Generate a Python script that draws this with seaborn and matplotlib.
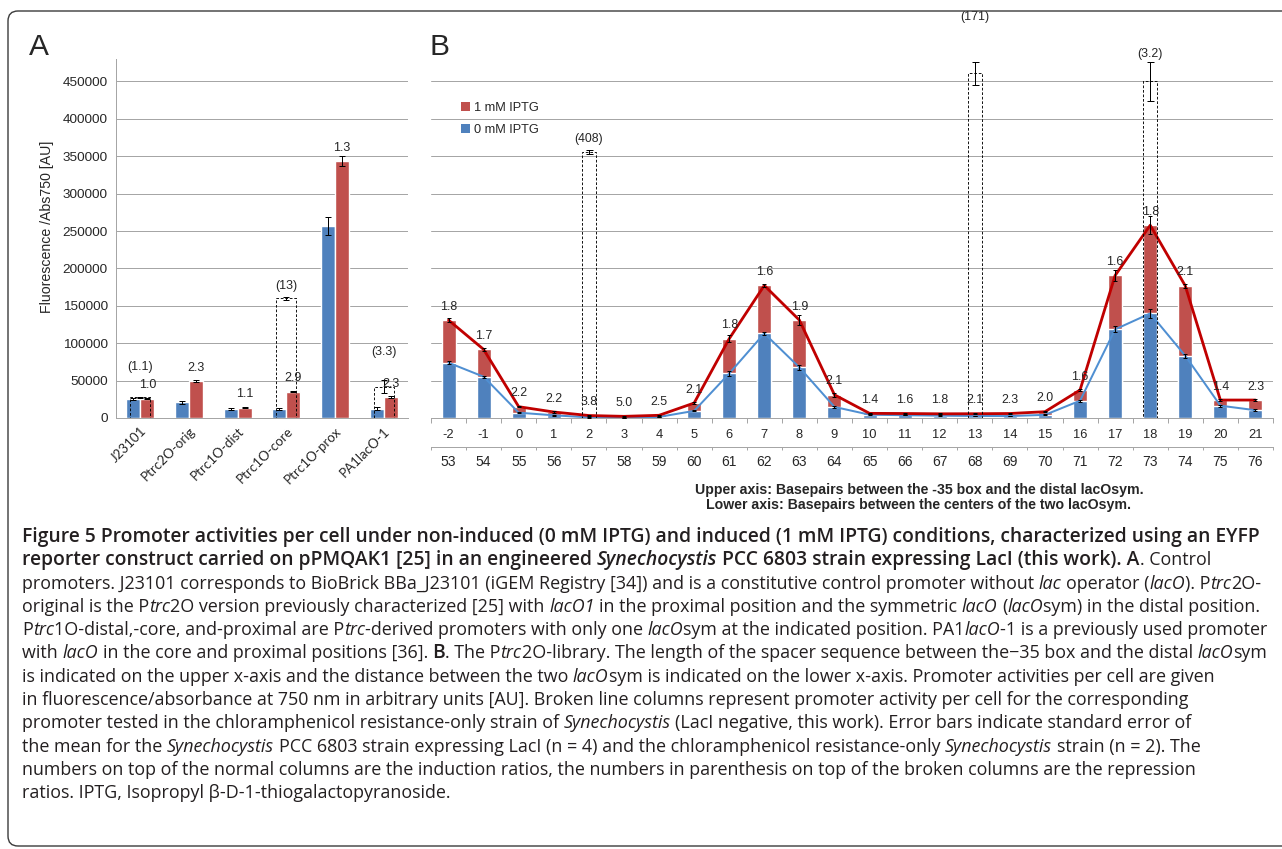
import numpy as np
import pandas as pd
import matplotlib
matplotlib.use("Agg")
import matplotlib.pyplot as plt
from matplotlib.patches import Patch, FancyBboxPatch
from matplotlib.font_manager import FontProperties
from matplotlib.transforms import IdentityTransform
import seaborn as sns

# ------------------------------------------------------------------ data
promoters_a = ["J23101", "Ptrc2O-orig", "Ptrc1O-dist", "Ptrc1O-core", "Ptrc1O-prox", "PA1lacO-1"]
a_0mM = [25400, 21000, 12400, 12000, 256400, 12500]
a_0mM_err = [1500, 2000, 1500, 1200, 11800, 2000]
a_1mM = [26000, 49400, 13800, 34800, 343600, 28000]
a_1mM_err = [1000, 1000, 700, 700, 6700, 800]
a_ratio = ["1.0", "2.3", "1.1", "2.9", "1.3", "2.3"]
a_neg_promoters = ["J23101", "Ptrc1O-core", "PA1lacO-1"]
a_neg = [27500, 159800, 41800]
a_neg_err = [800, 1500, 8500]
a_neg_ratio = ["(1.1)", "(13)", "(3.3)"]

upper_axis = ["-2", "-1", "0", "1", "2", "3", "4", "5", "6", "7", "8", "9",
              "10", "11", "12", "13", "14", "15", "16", "17", "18", "19", "20", "21"]
lower_axis = ["53", "54", "55", "56", "57", "58", "59", "60", "61", "62", "63", "64",
              "65", "66", "67", "68", "69", "70", "71", "72", "73", "74", "75", "76"]
b_1mM = [130900, 91700, 15100, 8000, 3300, 2200, 3600, 20000, 106000, 177200, 130900, 31000,
         6200, 6000, 5600, 5700, 6000, 8400, 37400, 190600, 257700, 176700, 24000, 24000]
b_1mM_err = [2500, 1500, 1000, 800, 500, 400, 500, 1500, 4500, 2000, 6500, 3000,
             800, 600, 600, 600, 700, 800, 1500, 7000, 12000, 3000, 1500, 1500]
b_0mM = [73900, 55200, 7100, 3600, 870, 440, 1450, 9500, 59500, 113100, 67700, 14800,
         4400, 3750, 3100, 2700, 2600, 4200, 23100, 118500, 139800, 83200, 16500, 10400]
b_0mM_err = [2000, 1500, 1000, 600, 300, 200, 400, 800, 3500, 1500, 3000, 1500,
             500, 400, 400, 400, 400, 600, 1500, 4000, 6500, 2500, 1500, 1200]
b_ratio = ["1.8", "1.7", "2.2", "2.2", "3.8", "5.0", "2.5", "2.1", "1.8", "1.6", "1.9", "2.1",
           "1.4", "1.6", "1.8", "2.1", "2.3", "2.0", "1.6", "1.6", "1.8", "2.1", "1.4", "2.3"]
b_neg_cats = ["2", "13", "18"]
b_neg = [355600, 460700, 450000]
b_neg_err = [3000, 15000, 26000]
b_neg_ratio = ["(408)", "(171)", "(3.2)"]

legend_labels = ["1 mM IPTG", "0 mM IPTG"]
y_label = "Fluorescence /Abs750 [AU]"
axis_note = ["Upper axis: Basepairs between the -35 box and the distal lacOsym.",
             "Lower axis: Basepairs between the centers of the two lacOsym."]

caption_lines = [
    [("Figure 5 Promoter activities per cell under non-induced (0 mM IPTG) and induced (1 mM IPTG) conditions, characterized using an EYFP", "b")],
    [("reporter construct carried on pPMQAK1 [25] in an engineered ", "b"), ("Synechocystis", "bi"),
     (" PCC 6803 strain expressing LacI (this work). A", "b"), (". Control", "n")],
    [("promoters. J23101 corresponds to BioBrick BBa_J23101 (iGEM Registry [34]) and is a constitutive control promoter without ", "n"),
     ("lac", "i"), (" operator (", "n"), ("lacO", "i"), ("). P", "n"), ("trc", "i"), ("2O-", "n")],
    [("original is the P", "n"), ("trc", "i"), ("2O version previously characterized [25] with ", "n"), ("lacO1", "i"),
     (" in the proximal position and the symmetric ", "n"), ("lacO", "i"), (" (", "n"), ("lacO", "i"),
     ("sym) in the distal position.", "n")],
    [("P", "n"), ("trc", "i"), ("1O-distal,-core, and-proximal are P", "n"), ("trc", "i"),
     ("-derived promoters with only one ", "n"), ("lacO", "i"), ("sym at the indicated position. PA1", "n"),
     ("lacO", "i"), ("-1 is a previously used promoter", "n")],
    [("with ", "n"), ("lacO", "i"), (" in the core and proximal positions [36]. ", "n"), ("B", "b"), (". The P", "n"),
     ("trc", "i"), ("2O-library. The length of the spacer sequence between the\u221235 box and the distal ", "n"),
     ("lacO", "i"), ("sym", "n")],
    [("is indicated on the upper x-axis and the distance between the two ", "n"), ("lacO", "i"),
     ("sym is indicated on the lower x-axis. Promoter activities per cell are given", "n")],
    [("in fluorescence/absorbance at 750 nm in arbitrary units [AU]. Broken line columns represent promoter activity per cell for the corresponding", "n")],
    [("promoter tested in the chloramphenicol resistance-only strain of ", "n"), ("Synechocystis", "i"),
     (" (LacI negative, this work). Error bars indicate standard error of", "n")],
    [("the mean for the ", "n"), ("Synechocystis", "i"),
     (" PCC 6803 strain expressing LacI (n = 4) and the chloramphenicol resistance-only ", "n"),
     ("Synechocystis", "i"), (" strain (n = 2). The", "n")],
    [("numbers on top of the normal columns are the induction ratios, the numbers in parenthesis on top of the broken columns are the repression", "n")],
    [("ratios. IPTG, Isopropyl \u03b2-D-1-thiogalactopyranoside.", "n")],
]

# ------------------------------------------------------------------ style
W, H, DPI = 1282, 849, 100
PT = 72.0 / DPI           # pixels -> points
BLUE = "#4F81BD"
RED = "#C0504D"
RED_LINE = "#C00000"
BLUE_LINE = "#4F8FD2"
GRID = "#A6A6A6"
CAP_COLOR = "#231F20"
CAP_FAMILY = "Open Sans"

sns.set_style("white")
plt.rcParams["font.family"] = ["Liberation Sans", "DejaVu Sans"]

fig = plt.figure(figsize=(W / DPI, H / DPI), dpi=DPI)
fig.patch.set_facecolor("white")


def fx(px):
    return px / W


def fy(py):
    return 1 - py / H


def style_bottom_ticks(ax, n, labels, size, pad_px):
    ax.set_xlim(-0.5, n - 0.5)
    ax.set_xticks(np.arange(n))
    ax.set_xticklabels(labels, fontsize=size)
    ax.set_xticks(np.arange(n + 1) - 0.5, minor=True)
    ax.tick_params(axis="x", which="major", length=0, pad=pad_px * PT)
    ax.tick_params(axis="x", which="minor", length=5 * PT, width=1 * PT, color=GRID, direction="out")


# ------------------------------------------------------------------ panel A
top_px, base_px = 59, 418
axA = fig.add_axes([fx(116), fy(base_px), (408 - 116) / W, (base_px - top_px) / H])
dfA = pd.DataFrame({
    "promoter": promoters_a * 2,
    "condition": ["0 mM IPTG"] * len(promoters_a) + ["1 mM IPTG"] * len(promoters_a),
    "value": a_0mM + a_1mM,
})
sns.barplot(data=dfA, x="promoter", y="value", hue="condition", order=promoters_a,
            hue_order=["0 mM IPTG", "1 mM IPTG"], palette=[BLUE, RED], saturation=1,
            width=0.575, errorbar=None, legend=False, ax=axA, zorder=2)

bars = sorted([p for p in axA.patches], key=lambda p: p.get_x())
for p in bars:
    xc = p.get_x() + p.get_width() / 2
    i = int(round(xc))
    if xc < i:
        axA.errorbar(xc, a_0mM[i], yerr=a_0mM_err[i], fmt="none", ecolor="black",
                     elinewidth=1 * PT, capsize=3.2 * PT, capthick=1 * PT, zorder=5)
    else:
        axA.errorbar(xc, a_1mM[i], yerr=a_1mM_err[i], fmt="none", ecolor="black",
                     elinewidth=1 * PT, capsize=3.2 * PT, capthick=1 * PT, zorder=5)
        axA.annotate(a_ratio[i], (xc, a_1mM[i]), xytext=(0, 13.5 * PT), textcoords="offset points",
                     ha="center", va="center", fontsize=9, zorder=8)

idxA = [promoters_a.index(p) for p in a_neg_promoters]
axA.bar(idxA, a_neg, width=0.41, fill=False, edgecolor="black", linestyle=(0, (3, 2)),
        linewidth=0.9 * PT, zorder=6)
axA.errorbar(idxA, a_neg, yerr=a_neg_err, fmt="none", ecolor="black", elinewidth=1 * PT,
             capsize=3.2 * PT, capthick=1 * PT, zorder=6)
neg_offsets_a = [30, 12.6, 35]
for i, v, lbl, off in zip(idxA, a_neg, a_neg_ratio, neg_offsets_a):
    axA.annotate(lbl, (i, v), xytext=(0, off * PT), textcoords="offset points",
                 ha="center", va="center", fontsize=9, zorder=8)

axA.set_ylim(0, 480000)
axA.set_yticks(np.arange(0, 450001, 50000))
axA.yaxis.set_major_formatter(lambda v, p: f"{int(v)}")
axA.yaxis.grid(True, color=GRID, linewidth=1 * PT)
axA.set_axisbelow(True)
for s in ["top", "right"]:
    axA.spines[s].set_visible(False)
for s in ["left", "bottom"]:
    axA.spines[s].set_color(GRID)
    axA.spines[s].set_linewidth(1 * PT)
axA.tick_params(axis="y", length=4 * PT, width=1 * PT, color=GRID, labelsize=9.7, pad=3)
style_bottom_ticks(axA, len(promoters_a), promoters_a, 9.6, 7)
for t in axA.get_xticklabels():
    t.set_rotation(45)
    t.set_ha("right")
    t.set_rotation_mode("anchor")
    t.set_family(["Lato", "DejaVu Sans"])
axA.set_xlabel("")
axA.set_ylabel("")
fig.text(fx(47), fy(227), y_label, rotation=90, ha="center", va="center", fontsize=10.2)

# ------------------------------------------------------------------ panel B
axB = fig.add_axes([fx(431), fy(base_px), (1273 - 431) / W, (base_px - top_px) / H])
sns.barplot(x=upper_axis, y=b_1mM, order=upper_axis, color=RED, saturation=1, width=0.4,
            errorbar=None, ax=axB, zorder=2)
sns.barplot(x=upper_axis, y=b_0mM, order=upper_axis, color=BLUE, saturation=1, width=0.4,
            errorbar=None, ax=axB, zorder=3)
posB = np.arange(len(upper_axis))
sns.lineplot(x=posB, y=b_0mM, color=BLUE_LINE, linewidth=2.0 * PT, ax=axB, zorder=4)
sns.lineplot(x=posB, y=b_1mM, color=RED_LINE, linewidth=2.8 * PT, ax=axB, zorder=5)
axB.errorbar(posB, b_0mM, yerr=b_0mM_err, fmt="none", ecolor="black", elinewidth=1 * PT,
             capsize=2.3 * PT, capthick=1 * PT, zorder=6)
axB.errorbar(posB, b_1mM, yerr=b_1mM_err, fmt="none", ecolor="black", elinewidth=1 * PT,
             capsize=2.3 * PT, capthick=1 * PT, zorder=6)
for x, v, lbl in zip(posB, b_1mM, b_ratio):
    axB.annotate(lbl, (x, v), xytext=(0, 13.5 * PT), textcoords="offset points",
                 ha="center", va="center", fontsize=8.9, zorder=8)

idxB = [upper_axis.index(c) for c in b_neg_cats]
axB.bar(idxB, b_neg, width=0.4, fill=False, edgecolor="black", linestyle=(0, (3, 2)),
        linewidth=0.9 * PT, zorder=7)
axB.errorbar(idxB, b_neg, yerr=b_neg_err, fmt="none", ecolor="black", elinewidth=1 * PT,
             capsize=3.5 * PT, capthick=1 * PT, zorder=7)
neg_offsets_b = [13, 56, 27]
for i, v, lbl, off in zip(idxB, b_neg, b_neg_ratio, neg_offsets_b):
    axB.annotate(lbl, (i, v), xytext=(0, off * PT), textcoords="offset points",
                 ha="center", va="center", fontsize=8.9, zorder=8, annotation_clip=False)

axB.set_ylim(0, 480000)
axB.set_yticks(np.arange(0, 450001, 50000))
axB.yaxis.grid(True, color=GRID, linewidth=1 * PT)
axB.set_axisbelow(True)
axB.tick_params(axis="y", length=0, labelleft=False)
for s in ["top", "right", "left"]:
    axB.spines[s].set_visible(False)
axB.spines["bottom"].set_color(GRID)
axB.spines["bottom"].set_linewidth(1 * PT)
style_bottom_ticks(axB, len(upper_axis), upper_axis, 9.3, 11)
axB.set_xlabel("")
axB.set_ylabel("")

handles = [Patch(facecolor=RED, edgecolor="none", label=legend_labels[0]),
           Patch(facecolor=BLUE, edgecolor="none", label=legend_labels[1])]
axB.legend(handles=handles, loc="upper left", bbox_to_anchor=((461 - 431) / 842, (418 - 102) / 359),
           frameon=False, fontsize=9.2, handlelength=0.7, handleheight=0.7, handletextpad=0.3,
           labelspacing=0.8, borderaxespad=0, borderpad=0)

axB2 = axB.twiny()
style_bottom_ticks(axB2, len(lower_axis), lower_axis, 9.3, 8)
axB2.xaxis.set_ticks_position("bottom")
axB2.xaxis.set_label_position("bottom")
axB2.spines["bottom"].set_position(("outward", 29 * PT))
for s in ["top", "right", "left"]:
    axB2.spines[s].set_visible(False)
axB2.spines["bottom"].set_color(GRID)
axB2.spines["bottom"].set_linewidth(1 * PT)
axB2.tick_params(axis="x", which="minor", length=3 * PT)

# ------------------------------------------------------------------ panel letters
fig.text(fx(29), fy(55), "A", fontsize=21.5, ha="left", va="baseline")
fig.text(fx(429), fy(55), "B", fontsize=21.5, ha="left", va="baseline")

# ------------------------------------------------------------------ text helpers
renderer = fig.canvas.get_renderer()


def text_w(s, prop):
    t = fig.text(0, 0, s, fontproperties=prop)
    w = t.get_window_extent(renderer).width
    t.remove()
    return w


def seg_w(s, prop):
    return text_w("|" + s + "|", prop) - text_w("||", prop)


note_prop = FontProperties(family=["Liberation Sans"], weight="bold", size=9)
note_size = 9 * 448 / text_w(axis_note[0], note_prop)
fig.text(fx(919), fy(490), axis_note[0], ha="center", va="center", fontsize=note_size, fontweight="bold")
fig.text(fx(919), fy(505), axis_note[1], ha="center", va="center", fontsize=note_size, fontweight="bold")


def cap_prop(style, size):
    return FontProperties(family=[CAP_FAMILY, "DejaVu Sans"], size=size,
                          weight=600 if "b" in style else "normal",
                          style="italic" if "i" in style else "normal")


def line_width(segs, size):
    return sum(seg_w(s, cap_prop(st, size)) for s, st in segs)


# regular size fitted on the plain lines, bold size fitted on the first (bold) line
reg_targets = {2: 1233, 3: 1258, 4: 1256, 5: 1264, 6: 1184, 7: 1154, 8: 1195, 9: 1248, 10: 1234}
reg_size = 10 * sum(t - 22 for t in reg_targets.values()) / sum(
    line_width(caption_lines[k], 10) for k in reg_targets)
bold_size = 10 * (1260 - 22) / line_width(caption_lines[0], 10)


def draw_line(segs, x0, y_base):
    x = x0
    for s, st in segs:
        prop = cap_prop(st, bold_size if "b" in st else reg_size)
        stripped = s.lstrip(" ")
        x += (len(s) - len(stripped)) * seg_w(" ", prop)
        fig.text(fx(x), fy(y_base), stripped, fontproperties=prop, ha="left", va="baseline", color=CAP_COLOR)
        x += seg_w(stripped, prop)


for k, segs in enumerate(caption_lines):
    draw_line(segs, 22, 542 + k * 23.3)

# ------------------------------------------------------------------ frame
frame = FancyBboxPatch((8, H - 846), 1320, 835, boxstyle="round,pad=0,rounding_size=10",
                       transform=IdentityTransform(), fill=False, edgecolor="#3C3C3C",
                       linewidth=1.4 * PT)
fig.add_artist(frame)

fig.savefig("out.png", dpi=DPI)
